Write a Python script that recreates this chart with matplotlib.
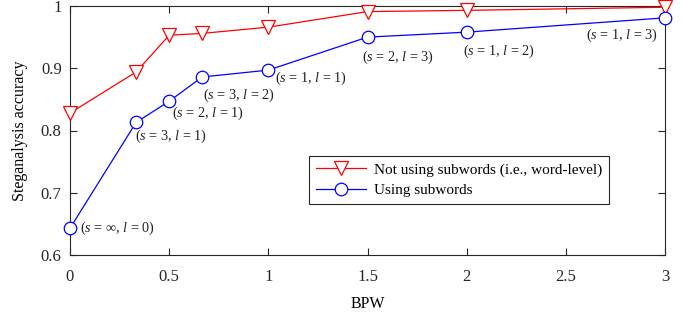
import matplotlib
matplotlib.use("Agg")
import matplotlib.pyplot as plt

plt.rcParams['font.family'] = ['Liberation Serif', 'DejaVu Serif']
plt.rcParams['mathtext.fontset'] = 'custom'
plt.rcParams['mathtext.rm'] = 'Liberation Serif'
plt.rcParams['mathtext.it'] = 'Liberation Serif:italic'

bpw = [0, 1/3, 0.5, 2/3, 1, 1.5, 2, 3]
word_level = [0.828, 0.894, 0.953, 0.956, 0.966, 0.991, 0.993, 0.998]
subwords = [0.643, 0.813, 0.847, 0.886, 0.897, 0.950, 0.958, 0.981]
labels = [r"($s$ = $\infty$, $l$ = 0)", r"($s$ = 3, $l$ = 1)", r"($s$ = 2, $l$ = 1)",
          r"($s$ = 3, $l$ = 2)", r"($s$ = 1, $l$ = 1)", r"($s$ = 2, $l$ = 3)",
          r"($s$ = 1, $l$ = 2)", r"($s$ = 1, $l$ = 3)"]
# offsets in pixels (dx, dy downwards), horizontal alignment
offsets = [(10, 0, 'left'), (-1, 14, 'left'), (3, 12, 'left'), (1, 18, 'left'),
           (7, 8, 'left'), (-6, 20, 'left'), (-4, 19, 'left'), (-7, 18, 'right')]

fig = plt.figure(figsize=(6.83, 3.14), dpi=100)
ax = fig.add_axes([70/683, (314-255)/314, 595/683, 249/314])

ax.plot(bpw, word_level, color='red', lw=0.9, marker='v', markersize=9.5,
        markerfacecolor='white', markeredgecolor='red', markeredgewidth=0.9,
        label='Not using subwords (i.e., word-level)', clip_on=False, zorder=3)
ax.plot(bpw, subwords, color='blue', lw=0.9, marker='o', markersize=9,
        markerfacecolor='white', markeredgecolor='blue', markeredgewidth=0.9,
        label='Using subwords', clip_on=False, zorder=3)

for x, y, lab, (dx, dy, ha) in zip(bpw, subwords, labels, offsets):
    ax.annotate(lab, (x, y), xytext=(dx*0.72, -dy*0.72), textcoords='offset points',
                ha=ha, va='center', fontsize=10.3, color='#222222')

ax.set_xlim(0, 3)
ax.set_ylim(0.6, 1.0)
ax.set_xticks([0, 0.5, 1, 1.5, 2, 2.5, 3])
ax.set_xticklabels(['0', '0.5', '1', '1.5', '2', '2.5', '3'])
ax.set_yticks([0.6, 0.7, 0.8, 0.9, 1.0])
ax.set_yticklabels(['0.6', '0.7', '0.8', '0.9', '1'])
ax.tick_params(direction='in', top=True, right=True, labelsize=12, length=5,
               width=0.8, colors='#262626')
ax.tick_params(axis='x', pad=10)
ax.tick_params(axis='y', pad=6)
for s in ax.spines.values():
    s.set_linewidth(0.8)
    s.set_color('#262626')

ax.set_xlabel('BPW', fontsize=11.5, labelpad=8)
ax.set_ylabel('Steganalysis accuracy', fontsize=11.5, labelpad=9)

leg = ax.legend(loc='lower left', bbox_to_anchor=(0.402, 0.205), fontsize=11,
                fancybox=False, edgecolor='#262626', framealpha=1,
                borderpad=0.45, handlelength=3.3, labelspacing=0.45, handletextpad=0.5,
                borderaxespad=0)
leg.get_frame().set_linewidth(0.8)

fig.savefig('out.png', dpi=100)
